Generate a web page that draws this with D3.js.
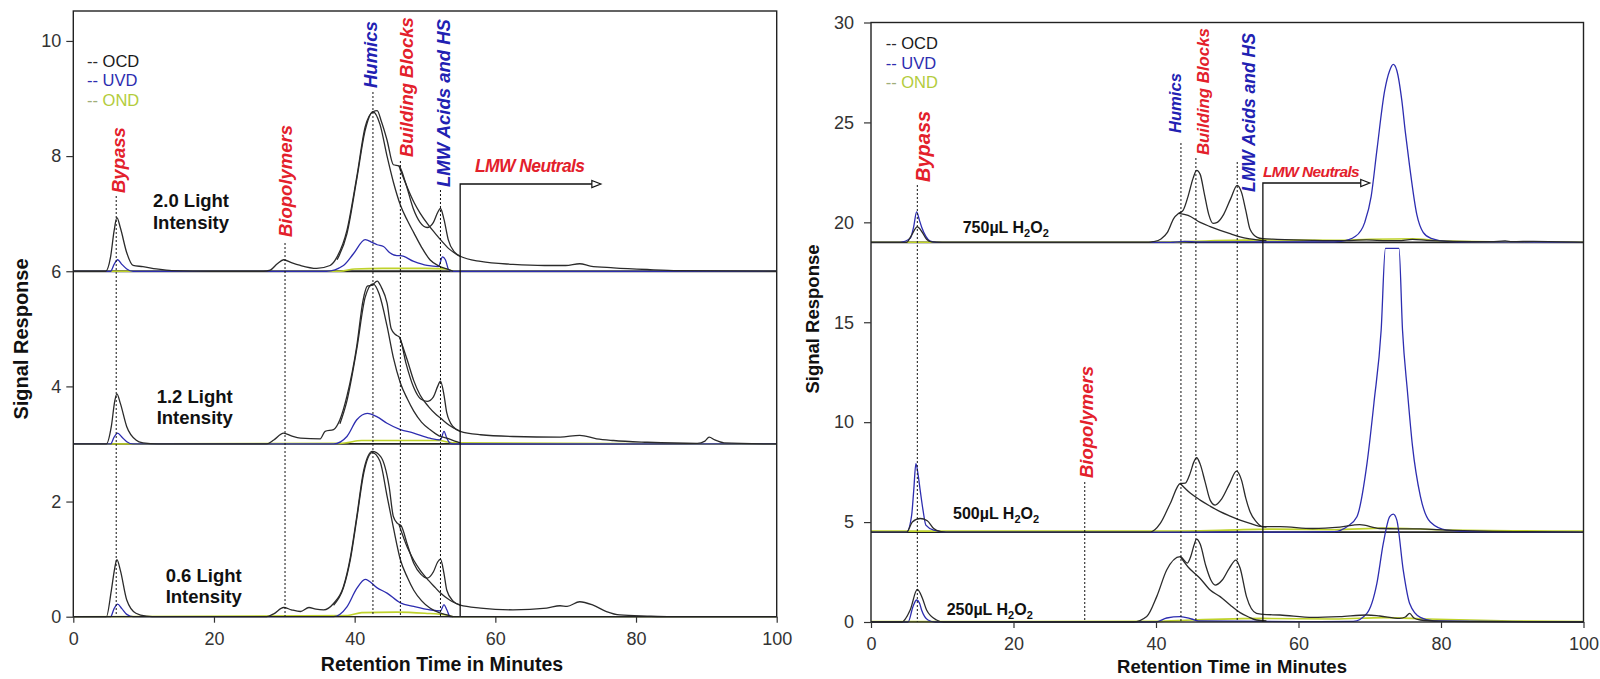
<!DOCTYPE html>
<html>
<head>
<meta charset="utf-8">
<script src="https://cdn.jsdelivr.net/npm/d3@7"></script>
<style>
  body { margin: 0; background: #fff; }
  svg { display: block; font-family: Arial, "Liberation Sans", sans-serif; }
</style>
</head>
<body>
<svg id="chart" width="1600" height="679"></svg>
<script>
// ---------- axis ticks ----------
const xTicks = [0, 20, 40, 60, 80, 100];
const leftYTicks = [0, 2, 4, 6, 8, 10];
const rightYTicks = [0, 5, 10, 15, 20, 25, 30];
const detectors = ["OCD", "UVD", "OND"];

// ---------- offsets of stacked chromatograms ----------
const leftBaselines = [6, 3];
const rightBaselines = [19, 4.5];

// ---------- sample names ----------
const leftSamples = [["2.0 Light", "Intensity"], ["1.2 Light", "Intensity"], ["0.6 Light", "Intensity"]];
const rightSamples = ["750", "500", "250"];

// ---------- fraction markers (retention time, minutes) ----------
const leftMarkers = [
  { name: "Bypass", t: 6.1, tone: "red" },
  { name: "Biopolymers", t: 30.1, tone: "red" },
  { name: "Humics", t: 42.6, tone: "blue" },
  { name: "Building Blocks", t: 46.5, tone: "red" },
  { name: "LMW Acids and HS", t: 52.2, tone: "blue" }
];
const rightMarkers = [
  { name: "Bypass", t: 6.5, tone: "red" },
  { name: "Biopolymers", t: 30.0, tone: "red" },
  { name: "Humics", t: 43.5, tone: "blue" },
  { name: "Building Blocks", t: 45.6, tone: "red" },
  { name: "LMW Acids and HS", t: 51.4, tone: "blue" }
];
const leftNeutrals = { name: "LMW Neutrals", from: 55, to: 75 };
const rightNeutrals = { name: "LMW Neutrals", from: 55, to: 70 };

// ---------- left panel: light intensity series [minutes, signal] ----------
const L20_OCD = [[0,6.0],[4.6,6.0],[5.3,6.25],[5.8,6.7],[6.2,6.93],[6.7,6.75],[7.6,6.32],[8.5,6.1],[9.9,6.08],[11.8,6.04],[14,6.01],[20,6.0],[27,6.0],[28,6.02],[29,6.13],[29.9,6.2],[31,6.15],[32.3,6.1],[34.6,6.05],[36.5,6.1],[37.5,6.25],[38.9,6.71],[40.3,7.64],[41.5,8.51],[42.6,8.77],[43.2,8.79],[43.8,8.6],[44.6,8.28],[45.5,7.85],[46.3,7.83],[47.2,7.55],[48.3,7.1],[49.3,6.85],[50.3,6.76],[51.2,6.85],[51.8,7.02],[52.2,7.09],[52.7,6.9],[53.3,6.55],[54.2,6.33],[55,6.26],[57.9,6.17],[62.5,6.12],[67,6.1],[70,6.1],[72,6.13],[73.5,6.09],[76.8,6.06],[81.6,6.03],[86,6.01],[100,6.0]];
const L20_OCD_fit = [[37.5,6.2],[38.9,6.65],[40.3,7.6],[41.5,8.45],[42.6,8.77],[43.6,8.55],[44.6,8.0],[45.5,7.55],[46.5,7.15],[47.5,6.88],[48.4,6.67],[49.5,6.42],[50.7,6.2],[52,6.09],[53.1,6.04],[54,6.0]];
const L20_OCD_env = [[46.3,7.83],[47.5,7.45],[48.5,7.18],[49.3,7.01],[50.5,6.8],[51.5,6.65],[52.2,6.55],[53.5,6.38],[55,6.26]];
const L20_UVD = [[0,6.0],[5.3,6.0],[5.8,6.12],[6.3,6.2],[6.9,6.12],[7.6,6.04],[8.5,6.0],[36,6.0],[38.4,6.1],[39.8,6.3],[41.5,6.55],[42.5,6.5],[43.2,6.46],[44.1,6.43],[45.0,6.32],[46.0,6.27],[46.5,6.27],[48.4,6.17],[50.3,6.1],[51.9,6.08],[52.5,6.25],[52.9,6.2],[53.4,6.02],[54,6.0],[100,6.0]];
const L20_OND = [[0,6.0],[38,6.0],[40,6.04],[44,6.05],[50,6.05],[53,6.04],[54,6.0],[100,6.0]];

const L12_OCD = [[0,3.0],[4.7,3.0],[5.4,3.3],[5.9,3.75],[6.2,3.87],[6.7,3.7],[7.6,3.3],[8.9,3.07],[9.9,3.02],[12,3.0],[27.5,3.0],[28.5,3.07],[29.9,3.19],[31,3.14],[32.3,3.1],[35.1,3.09],[35.8,3.22],[37,3.25],[37.9,3.42],[38.9,3.83],[40.3,4.7],[41.2,5.5],[41.8,5.74],[42.5,5.76],[43.2,5.83],[43.8,5.72],[44.6,5.45],[45.2,5.0],[45.8,4.9],[46.4,4.85],[47.3,4.4],[48.4,3.98],[49.4,3.78],[50.3,3.74],[51.2,3.82],[51.8,4.0],[52.2,4.09],[52.7,3.85],[53.1,3.54],[54,3.3],[55,3.22],[57.9,3.16],[62.5,3.13],[69.2,3.12],[72,3.15],[74.4,3.09],[76.8,3.06],[81.6,3.03],[88.7,3.01],[89.8,3.05],[90.4,3.12],[91.2,3.07],[92.5,3.02],[100,3.0]];
const L12_OCD_fit = [[37.9,3.35],[38.9,3.75],[40.3,4.65],[41.5,5.55],[42.6,5.78],[43.5,5.6],[44.6,5.05],[45.5,4.5],[46.5,4.06],[47.5,3.78],[48.4,3.57],[49.5,3.38],[50.7,3.25],[52,3.14],[53.1,3.1],[54.5,3.04],[55,3.02]];
const L12_OCD_env = [[46.4,4.85],[47.5,4.45],[48.4,4.1],[49.3,3.85],[50.5,3.65],[51.5,3.52],[52.2,3.45],[53.5,3.32],[55,3.22]];
const L12_UVD = [[0,3.0],[5.3,3.0],[5.8,3.12],[6.3,3.19],[6.9,3.12],[7.6,3.04],[8.5,3.0],[37,3.0],[38.9,3.13],[40.3,3.42],[41.8,3.53],[43.2,3.47],[44.6,3.36],[46.5,3.25],[48.4,3.19],[50.7,3.1],[52.2,3.07],[52.7,3.22],[53.1,3.1],[53.5,3.02],[54,3.0],[100,3.0]];
const L12_OND = [[0,3.0],[38,3.01],[41,3.06],[52,3.06],[54,3.02],[100,3.0]];

const L06_OCD = [[0,0],[4.7,0],[5.4,0.45],[5.9,0.85],[6.2,0.99],[6.7,0.8],[7.6,0.29],[8.9,0.06],[10.4,0.01],[12,0],[27.5,0],[28.5,0.05],[29.9,0.16],[31,0.12],[32.3,0.09],[33.5,0.16],[34.5,0.13],[35.6,0.12],[37,0.23],[38.4,0.52],[39.4,1.04],[40.3,1.74],[41.3,2.55],[42.5,2.87],[43.7,2.78],[44.9,2.26],[45.5,1.74],[46.1,1.62],[46.6,1.58],[47.5,1.25],[48.4,0.93],[49.4,0.74],[50.3,0.67],[51.2,0.78],[51.8,0.95],[52.2,1.0],[52.7,0.75],[53.1,0.46],[54,0.27],[55,0.2],[57.9,0.15],[62.5,0.12],[67.3,0.15],[69.2,0.19],[70.2,0.18],[72,0.26],[73.9,0.2],[75.8,0.09],[77.7,0.03],[81.6,0.01],[85,0],[100,0]];
const L06_OCD_fit = [[37,0.2],[38.4,0.5],[39.4,1.0],[40.3,1.7],[41.3,2.5],[42.5,2.85],[43.6,2.7],[44.6,2.1],[45.5,1.55],[46.5,0.99],[47.5,0.68],[48.4,0.46],[49.5,0.28],[50.7,0.15],[52,0.07],[53.1,0.03],[54,0]];
const L06_OCD_env = [[46.3,1.6],[47.5,1.2],[48.4,0.98],[49.3,0.81],[50.5,0.63],[51.5,0.5],[52.2,0.41],[53.5,0.29],[55,0.2]];
const L06_UVD = [[0,0],[5.3,0],[5.8,0.14],[6.3,0.22],[6.9,0.14],[7.6,0.04],[8.5,0],[37,0],[38.9,0.17],[40.3,0.49],[41.5,0.65],[43.2,0.5],[44.6,0.41],[46.5,0.24],[48.4,0.18],[50.7,0.12],[52.2,0.1],[52.7,0.21],[53.1,0.12],[53.6,0],[100,0]];
const L06_OND = [[0,0],[39,0.02],[41,0.07],[46,0.08],[50,0.06],[53,0.03],[54,0],[100,0]];

// ---------- right panel: H2O2 dose series [minutes, signal] ----------
const R750_OCD = [[0,19],[5.0,19.0],[5.6,19.3],[6.5,19.77],[7.2,19.5],[7.8,19.15],[8.5,19.02],[10,19.0],[39,19.0],[39.6,19.03],[40.7,19.17],[41.6,19.5],[42.5,20.2],[43.2,20.45],[43.8,20.6],[44.5,21.3],[45.2,22.2],[45.7,22.6],[46.2,22.4],[46.8,21.4],[47.4,20.4],[48.0,19.95],[48.6,20.0],[49.5,20.4],[50.5,21.2],[51.4,21.85],[52,21.5],[52.6,20.6],[53.2,19.65],[54.2,19.25],[55,19.18],[57,19.15],[62,19.1],[66,19.08],[69.5,19.12],[71,19.1],[74,19.08],[76,19.15],[78,19.1],[82,19.05],[87,19.03],[89,19.07],[90,19.03],[93,19.05],[100,19.0]];
const R750_OCD_fit = [[43.2,20.45],[44.5,20.35],[46.2,20.0],[47.5,19.8],[49,19.6],[50.5,19.42],[51.8,19.27],[53.2,19.17],[54.6,19.1],[55.5,19.08]];
const R750_UVD = [[0,19],[4.1,19.0],[5.5,19.2],[6.0,19.8],[6.4,20.52],[6.8,20.1],[7.1,19.77],[7.7,19.3],[8.3,19.06],[9.2,19.0],[42,19.0],[44,19.05],[46,19.02],[55,19.02],[64,19.02],[66,19.05],[68,19.3],[69.3,20.0],[70.2,21.3],[71.0,23.6],[72.1,26.6],[72.8,27.6],[73.3,27.9],[73.8,27.6],[74.5,26.1],[75.0,24.5],[75.6,22.8],[76.6,20.4],[77.5,19.5],[78.6,19.2],[80.8,19.05],[85,19.02],[100,19.0]];
const R750_OND = [[0,19.0],[40,19.0],[45,19.05],[55,19.12],[65,19.1],[70,19.15],[76,19.18],[80,19.08],[90,19.02],[100,19]];

const R500_OCD = [[0,4.5],[5.0,4.5],[5.8,5.0],[6.9,5.18],[7.9,5.07],[8.8,4.68],[9.7,4.53],[10.5,4.5],[39.2,4.5],[40.6,4.93],[42.0,5.93],[43.4,6.93],[44.1,6.95],[44.8,7.45],[45.3,8.0],[45.7,8.22],[46.2,7.9],[46.9,7.0],[47.6,6.1],[48.3,5.85],[49.2,6.15],[50.3,6.9],[51.3,7.55],[52,7.1],[52.6,6.2],[53.2,5.52],[54.0,5.05],[55,4.77],[57.4,4.77],[62,4.68],[65.8,4.75],[68.6,4.87],[71.4,4.68],[74.2,4.66],[77.1,4.66],[80.8,4.6],[86,4.55],[100,4.5]];
const R500_OCD_fit = [[43.4,6.93],[44.8,6.45],[46.2,6.1],[47.6,5.8],[49,5.52],[50.4,5.3],[51.8,5.1],[53.2,4.93],[54.4,4.8],[55.5,4.75]];
const R500_UVD = [[0,4.5],[5.0,4.5],[5.7,5.33],[6.0,6.6],[6.3,7.93],[6.6,7.4],[6.9,6.6],[7.3,5.6],[7.7,4.85],[8.8,4.6],[10.6,4.5],[60,4.5],[65,4.52],[66.8,4.77],[68.2,5.27],[69.6,7.9],[70.6,11.0],[71.6,14.6],[72.2,18.7],[74.1,18.7],[74.6,14.6],[75.3,11.5],[76.0,8.8],[77.1,6.3],[78.5,5.0],[80.8,4.6],[85,4.52],[100,4.5]];
const R500_OND = [[0,4.55],[40,4.55],[50,4.6],[56,4.65],[65,4.62],[72,4.7],[80,4.62],[100,4.55]];

const R250_OCD = [[0,0],[4.3,0],[5.5,0.6],[6.5,1.63],[7.2,1.2],[7.8,0.6],[9.2,0.1],[10.2,0],[36.8,0],[38.7,0.27],[40.1,1.27],[41.5,2.6],[43.4,3.27],[44.4,2.95],[44.9,3.3],[45.3,3.8],[45.7,4.15],[46.2,3.9],[47,2.8],[47.7,2.1],[48.3,1.85],[49.3,2.1],[50.3,2.7],[51.2,3.1],[51.8,2.7],[52.7,1.27],[54.1,0.43],[55,0.38],[57.4,0.35],[62,0.23],[65.8,0.27],[69.6,0.35],[71.4,0.3],[74.2,0.18],[75.0,0.25],[75.6,0.43],[76.2,0.2],[77.1,0.1],[80,0.04],[85,0.02],[100,0]];
const R250_OCD_fit = [[43.4,3.27],[44.5,2.75],[46.2,2.18],[47.6,1.6],[49,1.27],[50.4,0.85],[51.8,0.47],[53,0.25],[54.1,0.1],[55.5,0.05]];
const R250_UVD = [[0,0],[5.2,0],[5.9,0.78],[6.4,1.1],[6.8,0.95],[7.1,0.6],[8.0,0.1],[9,0],[40,0],[41.5,0.2],[43.4,0.27],[45,0.15],[46,0.05],[60,0.02],[67.7,0.03],[69.6,0.43],[71.0,1.93],[71.9,3.93],[72.8,5.27],[73.3,5.4],[73.8,5.1],[74.7,2.6],[75.6,0.93],[77.1,0.23],[79,0.05],[100,0]];
const R250_OND = [[0,0.02],[40,0.03],[45,0.1],[55,0.18],[65,0.15],[72,0.22],[78,0.15],[90,0.05],[100,0.02]];

// ---------- styling ----------
const COLOR = { OCD: "#2b2b2b", UVD: "#2d2db0", OND: "#bfd22b" };
const TONE = { red: "#e3202b", blue: "#2121b2" };
const LEGEND_TEXT = { OCD: "#1a1a1a", UVD: "#2d2db0", OND: "#b3cc3c" };

const svg = d3.select("#chart");

function drawPanel(p) {
  const x = d3.scaleLinear().domain([0, 100]).range([p.x0, p.x1]);
  const y = d3.scaleLinear().domain(p.yDomain).range([p.yBot, p.yTop]);
  const g = svg.append("g");
  const line = d3.line().x(d => x(d[0])).y(d => y(d[1])).curve(d3.curveMonotoneX);

  // stacked chromatogram zero lines
  g.selectAll(".base").data(p.baselines).join("line")
    .attr("x1", p.x0).attr("x2", p.x1)
    .attr("y1", d => y(d)).attr("y2", d => y(d))
    .attr("stroke", "#222").attr("stroke-width", 1.8);

  // detector traces
  g.selectAll(".trace").data(p.traces).join("path")
    .attr("d", d => line(d.pts))
    .attr("fill", "none")
    .attr("stroke", d => COLOR[d.det])
    .attr("stroke-width", d => d.det === "OND" ? 1.6 : 1.3)
    .attr("stroke-linejoin", "round");

  // fraction markers: dashed guide + rotated label
  p.markers.forEach((m, i) => {
    const lay = p.markerLayout[i];
    g.append("line")
      .attr("x1", x(m.t)).attr("x2", x(m.t))
      .attr("y1", lay.top).attr("y2", p.yBot)
      .attr("stroke", "#111").attr("stroke-width", 1)
      .attr("stroke-dasharray", "2,2");
    const ax = lay.cx + 0.36 * lay.fs;
    g.append("text")
      .attr("transform", `translate(${ax},${lay.bottom}) rotate(-90)`)
      .attr("text-anchor", "start")
      .attr("font-size", lay.fs)
      .attr("font-weight", "bold").attr("font-style", "italic")
      .attr("fill", TONE[m.tone])
      .text(m.name);
  });

  // LMW neutrals bracket with arrow
  const n = p.neutrals, nl = p.neutralLayout;
  const nx0 = x(n.from), nx1 = x(n.to);
  g.append("path")
    .attr("d", `M${nx0},${p.yBot} L${nx0},${nl.y} L${nx1 - 7},${nl.y}`)
    .attr("fill", "none").attr("stroke", "#111").attr("stroke-width", 1.3);
  g.append("path")
    .attr("d", `M${nx1 - 9},${nl.y - 3.5} L${nx1},${nl.y} L${nx1 - 9},${nl.y + 3.5} Z`)
    .attr("fill", "#fff").attr("stroke", "#111").attr("stroke-width", 1.2);
  g.append("text")
    .attr("x", nl.tx).attr("y", nl.ty)
    .attr("font-size", nl.fs).attr("font-weight", "bold").attr("font-style", "italic")
    .attr("letter-spacing", -0.6)
    .attr("fill", TONE.red).text(n.name);

  // frame
  g.append("rect")
    .attr("x", p.x0).attr("y", p.yTop)
    .attr("width", p.x1 - p.x0).attr("height", p.yBot - p.yTop)
    .attr("fill", "none").attr("stroke", "#222").attr("stroke-width", 1.4);

  // axes
  const ax = g.append("g").attr("transform", `translate(0,${p.yBot})`)
    .call(d3.axisBottom(x).tickValues(xTicks).tickSize(6).tickPadding(p.xPad).tickFormat(d3.format("d")));
  const ay = g.append("g").attr("transform", `translate(${p.x0},0)`)
    .call(d3.axisLeft(y).tickValues(p.yTicks).tickSize(7).tickPadding(p.yPad).tickFormat(d3.format("d")));
  [ax, ay].forEach(a => {
    a.select(".domain").remove();
    a.selectAll("line").attr("stroke", "#333").attr("stroke-width", 1.2);
    a.selectAll("text").attr("font-size", 18).attr("fill", "#333")
      .attr("font-family", "Arial, 'Liberation Sans', sans-serif");
  });

  // axis titles
  g.append("text")
    .attr("x", p.xTitle.x).attr("y", p.xTitle.y)
    .attr("text-anchor", "middle").attr("font-weight", "bold")
    .attr("font-size", p.xTitle.fs).attr("fill", "#111")
    .text("Retention Time in Minutes");
  g.append("text")
    .attr("transform", `translate(${p.yTitle.x},${p.yTitle.y}) rotate(-90)`)
    .attr("text-anchor", "middle").attr("font-weight", "bold")
    .attr("font-size", p.yTitle.fs).attr("fill", "#111")
    .text("Signal Response");

  // legend
  detectors.forEach((d, i) => {
    const t = g.append("text")
      .attr("x", p.legend.x).attr("y", p.legend.y + i * p.legend.dy)
      .attr("font-size", p.legend.fs);
    t.append("tspan").attr("fill", d === "OND" ? "#9fae7a" : COLOR[d]).text("-- ");
    t.append("tspan").attr("fill", LEGEND_TEXT[d]).text(d);
  });

  return { g, x, y };
}

// ---------- left panel ----------
const left = drawPanel({
  x0: 73.3, x1: 776.7, yTop: 11, yBot: 616.7, yDomain: [0, 10.52],
  yTicks: leftYTicks, xPad: 9.5, yPad: 5,
  baselines: leftBaselines,
  traces: [
    { det: "OND", pts: L20_OND }, { det: "OND", pts: L12_OND }, { det: "OND", pts: L06_OND },
    { det: "UVD", pts: L20_UVD }, { det: "UVD", pts: L12_UVD }, { det: "UVD", pts: L06_UVD },
    { det: "OCD", pts: L20_OCD_fit }, { det: "OCD", pts: L20_OCD_env }, { det: "OCD", pts: L20_OCD },
    { det: "OCD", pts: L12_OCD_fit }, { det: "OCD", pts: L12_OCD_env }, { det: "OCD", pts: L12_OCD },
    { det: "OCD", pts: L06_OCD_fit }, { det: "OCD", pts: L06_OCD_env }, { det: "OCD", pts: L06_OCD }
  ],
  markers: leftMarkers,
  markerLayout: [
    { top: 196, cx: 118, bottom: 193, fs: 18.5 },
    { top: 243, cx: 285.7, bottom: 237, fs: 18.5 },
    { top: 92, cx: 370.7, bottom: 88, fs: 18.5 },
    { top: 161, cx: 406.7, bottom: 157, fs: 18.5 },
    { top: 190, cx: 443, bottom: 187, fs: 18.5 }
  ],
  neutrals: leftNeutrals,
  neutralLayout: { y: 184, tx: 475, ty: 172, fs: 17.5 },
  xTitle: { x: 442, y: 671, fs: 19.5 },
  yTitle: { x: 28, y: 339, fs: 20 },
  legend: { x: 87, y: 66.7, dy: 19.7, fs: 16.5 }
});

const leftSampleLayout = [
  { cx: 191, y: 207 }, { cx: 194.7, y: 402.7 }, { cx: 203.7, y: 581.7 }
];
leftSamples.forEach((lines, i) => {
  const lay = leftSampleLayout[i];
  const t = left.g.append("text").attr("text-anchor", "middle")
    .attr("font-size", 18.5).attr("font-weight", "bold").attr("fill", "#111");
  lines.forEach((s, j) => t.append("tspan").attr("x", lay.cx).attr("y", lay.y + j * 21.5).text(s));
});

// ---------- right panel ----------
const right = drawPanel({
  x0: 871, x1: 1583.5, yTop: 22.5, yBot: 622, yDomain: [0, 30],
  yTicks: rightYTicks, xPad: 9.5, yPad: 10,
  baselines: rightBaselines,
  traces: [
    { det: "OND", pts: R750_OND }, { det: "OND", pts: R500_OND }, { det: "OND", pts: R250_OND },
    { det: "UVD", pts: R750_UVD }, { det: "UVD", pts: R500_UVD }, { det: "UVD", pts: R250_UVD },
    { det: "OCD", pts: R750_OCD_fit }, { det: "OCD", pts: R750_OCD },
    { det: "OCD", pts: R500_OCD_fit }, { det: "OCD", pts: R500_OCD },
    { det: "OCD", pts: R250_OCD_fit }, { det: "OCD", pts: R250_OCD }
  ],
  markers: rightMarkers,
  markerLayout: [
    { top: 185, cx: 923, bottom: 182, fs: 20 },
    { top: 482, cx: 1086.7, bottom: 478, fs: 18.5 },
    { top: 143, cx: 1175, bottom: 133, fs: 16.6 },
    { top: 158, cx: 1203, bottom: 155, fs: 16.8 },
    { top: 162, cx: 1249, bottom: 192, fs: 17.5 }
  ],
  neutrals: rightNeutrals,
  neutralLayout: { y: 183, tx: 1263, ty: 177, fs: 15.5 },
  xTitle: { x: 1232, y: 673, fs: 18.5 },
  yTitle: { x: 819, y: 319, fs: 18.5 },
  legend: { x: 885.7, y: 49.3, dy: 19.2, fs: 16.5 }
});

const rightSampleLayout = [
  { x: 962.7, y: 232.7 }, { x: 953, y: 519 }, { x: 946.7, y: 615 }
];
rightSamples.forEach((dose, i) => {
  const lay = rightSampleLayout[i];
  const t = right.g.append("text").attr("x", lay.x).attr("y", lay.y)
    .attr("font-size", 16).attr("font-weight", "bold").attr("fill", "#111");
  t.append("tspan").text(dose + "µL H");
  t.append("tspan").attr("font-size", 11).attr("dy", 4).text("2");
  t.append("tspan").attr("dy", -4).text("O");
  t.append("tspan").attr("font-size", 11).attr("dy", 4).text("2");
});
</script>
</body>
</html>
